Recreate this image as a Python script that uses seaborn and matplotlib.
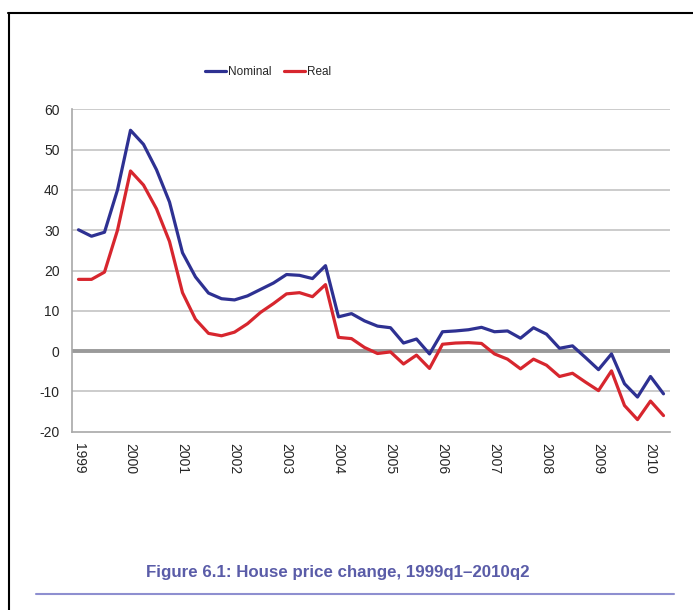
import matplotlib
matplotlib.use("Agg")
import matplotlib.pyplot as plt
import seaborn as sns
import pandas as pd
import numpy as np
from matplotlib.lines import Line2D

years = ["1999", "2000", "2001", "2002", "2003", "2004", "2005", "2006",
         "2007", "2008", "2009", "2010"]

nominal = [30.1, 28.5, 29.5, 40.0, 54.8, 51.3, 45.0, 37.0,
           24.4, 18.4, 14.4, 13.0, 12.7, 13.7, 15.3, 16.9,
           19.0, 18.8, 18.0, 21.2, 8.5, 9.3, 7.5, 6.2,
           5.8, 2.0, 3.0, -0.7, 4.8, 5.0, 5.3, 5.9,
           4.8, 5.0, 3.2, 5.8, 4.2, 0.7, 1.3, -1.6,
           -4.6, -0.7, -8.1, -11.4, -6.3, -10.6]
real = [17.8, 17.8, 19.6, 30.0, 44.7, 41.2, 35.3, 27.2,
        14.5, 7.9, 4.4, 3.8, 4.7, 6.8, 9.6, 11.8,
        14.2, 14.5, 13.5, 16.5, 3.4, 3.1, 0.9, -0.6,
        -0.2, -3.2, -1.0, -4.3, 1.7, 2.0, 2.1, 1.9,
        -0.7, -2.0, -4.4, -2.0, -3.5, -6.3, -5.5, -7.7,
        -9.8, -4.9, -13.5, -17.0, -12.4, -16.0]
series_names = ["Nominal", "Real"]
colors = ["#2E3192", "#D7262E"]

n = len(nominal)
q = np.arange(n)
df = pd.DataFrame({
    "q": np.concatenate([q, q]),
    "value": nominal + real,
    "series": [series_names[0]] * n + [series_names[1]] * n,
})

sns.set_style("white")
plt.rcParams["font.family"] = ["Liberation Sans", "DejaVu Sans"]

fig = plt.figure(figsize=(6.93, 6.10), dpi=100)
ax = fig.add_axes([72 / 693, 1 - 431.7 / 610, (670 - 72) / 693, (431.7 - 109.3) / 610])

sns.lineplot(data=df, x="q", y="value", hue="series", palette=colors,
             linewidth=2.3, ax=ax, legend=False, zorder=3)

ax.set_xlim(-0.5, n - 0.5)
ax.set_ylim(-20, 60)
ax.set_yticks(range(-20, 61, 10))
ax.set_yticklabels([str(v) for v in range(-20, 61, 10)], fontsize=10)
for v in range(-10, 61, 10):
    if v == 0:
        continue
    ax.axhline(v, color="#C4C4C4", linewidth=1.2, zorder=1)
ax.axhline(0, color="#9A9A9A", linewidth=2.8, zorder=2)

ax.set_xticks(np.arange(0, n, 4))
ax.set_xticklabels(years, rotation=-90, fontsize=10)
ax.set_xticks(np.arange(-0.5, n, 1), minor=True)
ax.tick_params(axis="x", which="major", length=0, pad=8)
ax.tick_params(axis="x", which="minor", length=5, color="#A8A8A8", width=1, direction="out")
ax.tick_params(axis="y", which="major", length=5, color="#A8A8A8", width=1,
               direction="out", pad=4)
ax.set_xlabel("")
ax.set_ylabel("")
for s in ["top", "right"]:
    ax.spines[s].set_visible(False)
for s in ["left", "bottom"]:
    ax.spines[s].set_color("#A8A8A8")
    ax.spines[s].set_linewidth(1.2)

handles = [Line2D([0], [0], color=c, linewidth=2.3) for c in colors]
fig.legend(handles, series_names, loc="center", bbox_to_anchor=(268 / 693, 1 - 72 / 610),
           ncol=2, frameon=False, fontsize=8.5, handlelength=1.8, handletextpad=0.2,
           columnspacing=1.0)

# frame lines
fig.add_artist(Line2D([8 / 693, 1.0], [1 - 13 / 610, 1 - 13 / 610], color="black", linewidth=1.5,
                      transform=fig.transFigure))
fig.add_artist(Line2D([9 / 693, 9 / 693], [0, 1 - 13 / 610], color="black", linewidth=1.5,
                      transform=fig.transFigure))
fig.add_artist(Line2D([36 / 693, 674 / 693], [1 - 594 / 610, 1 - 594 / 610], color="#8E8FD0",
                      linewidth=1.5, transform=fig.transFigure))

fig.text(338 / 693, 1 - 573 / 610, "Figure 6.1: House price change, 1999q1\u20132010q2",
         ha="center", va="center", fontsize=12.2, fontweight="bold", color="#5A5CA8",
         family=["Liberation Sans", "DejaVu Sans"])

fig.savefig("out.png", dpi=100)
